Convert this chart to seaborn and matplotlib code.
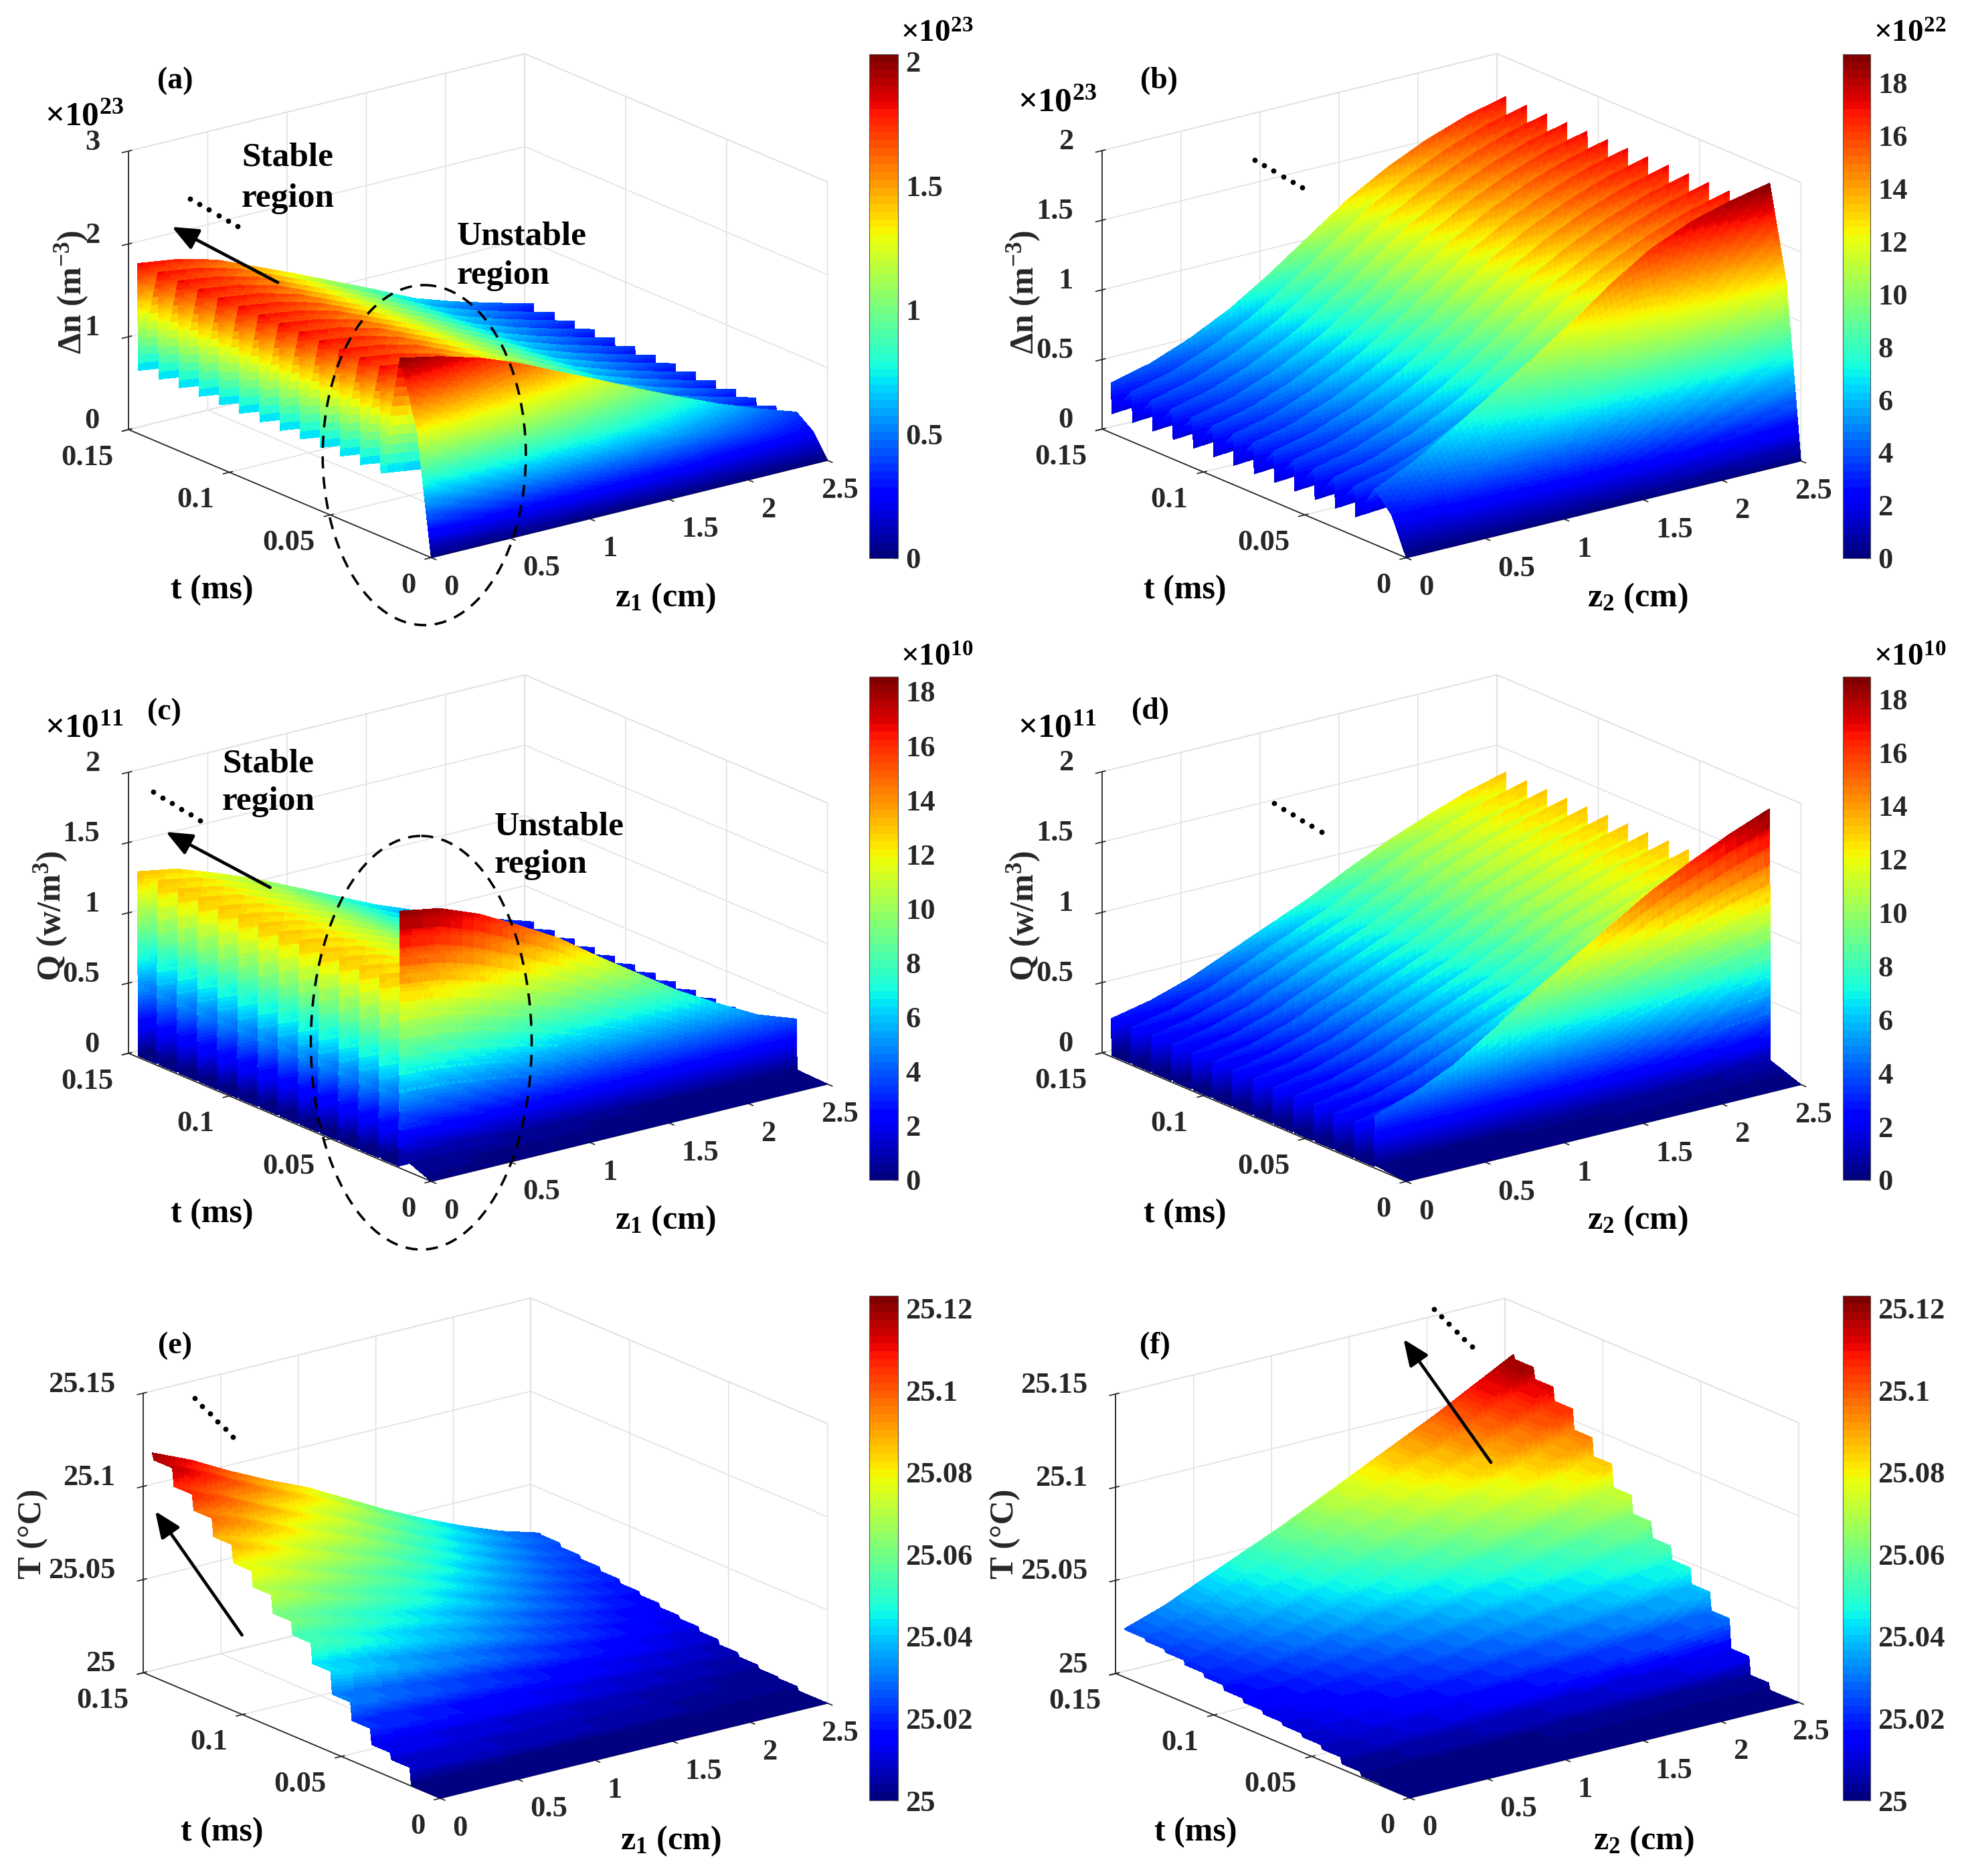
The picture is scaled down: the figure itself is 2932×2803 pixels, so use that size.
import numpy as np
import matplotlib
matplotlib.use("Agg")
import matplotlib.pyplot as plt
import seaborn as sns
from matplotlib.cm import ScalarMappable
from matplotlib.colors import Normalize
from matplotlib.patches import Ellipse

# ---- values ----
z_cm = [0, 0.25, 0.5, 0.75, 1, 1.25, 1.5, 1.75, 2, 2.25, 2.5]
pulse_t = [0.0154, 0.0254, 0.0354, 0.0454, 0.0554, 0.0654, 0.0754,
           0.0854, 0.0954, 0.1054, 0.1154, 0.1254, 0.1354, 0.1456]

# (a) delta n, x1e23
a_first = [2.01, 1.92, 1.80, 1.64, 1.44, 1.25, 1.05, 0.86, 0.68, 0.52, 0.38]
a_rest = [1.83, 1.77, 1.66, 1.48, 1.30, 1.11, 0.92, 0.72, 0.58, 0.46, 0.35]
a_base = [0.68, 0.62, 0.55, 0.48, 0.40, 0.33, 0.27, 0.20, 0.15, 0.10, 0.07]
# (b) delta n, x1e23
b_first = [0.40, 0.53, 0.70, 0.88, 1.06, 1.25, 1.46, 1.64, 1.76, 1.84, 1.90]
b_rest = [0.36, 0.43, 0.54, 0.68, 0.86, 1.06, 1.26, 1.42, 1.55, 1.65, 1.72]
b_base = [0.14, 0.16, 0.21, 0.27, 0.33, 0.41, 0.49, 0.55, 0.60, 0.63, 0.66]
# first pulse rise (time, share of the peak)
rise_t = [0.0035, 0.0071]
rise_share = [0.32, 0.65]
# (c) Q, x1e11
c_first = [1.83, 1.78, 1.67, 1.52, 1.36, 1.16, 0.97, 0.78, 0.62, 0.47, 0.37]
c_rest = [1.32, 1.27, 1.17, 1.06, 0.93, 0.80, 0.67, 0.56, 0.46, 0.36, 0.27]
c_before = [0.09, 0.08, 0.07, 0.06, 0.05, 0.04, 0.03, 0.03, 0.02, 0.01, 0.01]
# (d) Q, x1e11
d_first = [0.376, 0.47, 0.60, 0.78, 0.98, 1.15, 1.32, 1.49, 1.63, 1.76, 1.87]
d_rest = [0.27, 0.33, 0.42, 0.54, 0.66, 0.78, 0.92, 1.05, 1.16, 1.26, 1.335]
d_before = [0.02, 0.02, 0.03, 0.03, 0.04, 0.04, 0.05, 0.05, 0.06, 0.07, 0.08]
q_base = [0.01, 0.01, 0.01, 0.01, 0.01, 0.01, 0.01, 0.01, 0.01, 0.01, 0.01]
# (e)/(f) T - 25 at the last pulse, and the share reached at each pulse
e_last = [0.120, 0.111, 0.100, 0.090, 0.081, 0.070, 0.059, 0.049, 0.040, 0.032, 0.026]
f_last = [0.026, 0.033, 0.042, 0.051, 0.060, 0.070, 0.080, 0.090, 0.100, 0.111, 0.122]
e_share = [0.08, 0.11, 0.18, 0.26, 0.36, 0.45, 0.51, 0.59, 0.66, 0.74, 0.82, 0.89, 0.97, 1.0]
f_share = [0.03, 0.11, 0.24, 0.32, 0.39, 0.45, 0.52, 0.60, 0.70, 0.78, 0.87, 0.93, 0.98, 1.0]

z_ticks = [0, 0.5, 1, 1.5, 2, 2.5]
t_ticks = [0, 0.05, 0.1, 0.15]

W, H = 2932, 2803
JET = plt.get_cmap("jet", 64)

sns.set_theme(style="white")
plt.rcParams["font.family"] = ["Liberation Serif", "DejaVu Serif"]
plt.rcParams["font.weight"] = "bold"
plt.rcParams["mathtext.fontset"] = "custom"
plt.rcParams["mathtext.rm"] = "Liberation Serif:bold"
plt.rcParams["mathtext.it"] = "Liberation Serif:bold"
plt.rcParams["mathtext.bf"] = "Liberation Serif:bold"
plt.rcParams["mathtext.default"] = "rm"
INK = "#262626"
FS = 32


def pulsed_rows(first, rest, base, before=None):
    """Rows of the surface, one per time: rise, then a wall per pulse."""
    first, rest, base = map(np.array, (first, rest, base))
    t = [0.0]
    rows = [np.zeros_like(first)]
    steps = []
    if before is None:
        for rt, share in zip(rise_t, rise_share):
            t.append(rt)
            rows.append(first * share)
            steps.append(24)
        t.append(pulse_t[0])
        rows.append(first)
        steps.append(28)
        for tk in pulse_t[1:]:
            t += [tk - 0.0004, tk]
            rows += [base, rest]
            steps += [12, 44]
    else:
        # Q drops back to the floor right after each pulse and stays there
        t += [pulse_t[0] - 0.0004, pulse_t[0]]
        rows += [np.array(before), first]
        steps += [4, 70]
        for tk in pulse_t[1:]:
            t += [t[-1] + 0.0008, tk - 0.0004, tk]
            rows += [base, base, rest]
            steps += [14, 3, 50]
    return t, rows, steps


def stair_rows(last, share):
    last = np.array(last)
    t = [0.0]
    rows = [last * 0]
    steps = []
    prev = 0.0
    for tk, s in zip(pulse_t, share):
        t += [tk - 0.0008, tk]
        rows += [last * prev, last * s]
        steps += [6, 6]
        prev = s
    return t, rows, steps


def fine_mesh(t, rows, steps, offset=0.0, sub=7):
    # cells are flat coloured, so split them: same job as MATLAB's shading interp
    z_fine = np.concatenate([np.linspace(z_cm[i], z_cm[i + 1], sub, endpoint=False)
                             for i in range(len(z_cm) - 1)] + [[z_cm[-1]]])
    t_out, z_out = [t[0]], [np.interp(z_fine, z_cm, rows[0])]
    for i, n in enumerate(steps):
        for f in np.linspace(0, 1, n + 1)[1:]:
            t_out.append(t[i] + f * (t[i + 1] - t[i]))
            z_out.append(np.interp(z_fine, z_cm, rows[i] + f * (rows[i + 1] - rows[i])))
    X, Y = np.meshgrid(z_fine, t_out)
    return X, Y, np.array(z_out) + offset


def panel(fig, front, back_top, right, left, surf, zlim, zticks, ztick_fmt, vmax, vmin=0.0):
    """Place a 3D axes from the pixel corners of its box."""
    S = 1100.0
    # the 2D view limits of a 3D axes are -0.095..0.09, so its centre sits off the box centre
    off = S * 0.0025 / 0.185
    cx, cy = (front[0] + back_top[0]) / 2 - off, (front[1] + back_top[1]) / 2 + off
    ax = fig.add_axes([(cx - S / 2) / W, 1 - (cy + S / 2) / H, S / W, S / H],
                      projection="3d", proj_type="ortho")
    ax.patch.set_alpha(0)
    ax.view_init(elev=18.8, azim=-127.3)
    lx = (right[0] - front[0]) / 0.7953
    ly = (front[0] - left[0]) / 0.6063
    lz = (right[1] + left[1] - front[1] - back_top[1]) / 0.9466
    norm = np.sqrt(lx ** 2 + ly ** 2 + lz ** 2)
    ax.set_box_aspect((lx, ly, lz), zoom=1.85 * norm / (S * 1.8294640721620434 * 25 / 24))
    X, Y, Z = surf
    ax.plot_surface(X, Y, Z, rstride=1, cstride=1, cmap=JET, vmin=vmin, vmax=vmax,
                    shade=False, antialiased=False, linewidth=0)
    ax.set_xlim(0, 2.5)
    ax.set_ylim(0, 0.15)
    ax.set_zlim(*zlim)
    ax.set_xticks(z_ticks)
    x_labels = ax.set_xticklabels(["0", "0.5", "1", "1.5", "2", "2.5"], ha="left")
    x_labels[-1].set_ha("center")
    ax.set_yticks(t_ticks)
    ax.set_yticklabels(["0", "0.05", "0.1", "0.15"], ha="right")
    ax.set_zticks(zticks)
    ax.set_zticklabels(ztick_fmt, ha="right", va="baseline")
    ax.tick_params(labelsize=FS, colors=INK)
    ax.tick_params(axis="x", pad=9)
    ax.tick_params(axis="y", pad=8)
    ax.tick_params(axis="z", pad=9)
    for axis in (ax.xaxis, ax.yaxis, ax.zaxis):
        axis.set_pane_color((1, 1, 1, 1))
        axis.pane.set_edgecolor("#dddddd")
        axis.pane.set_linewidth(1.2)
        axis._axinfo["grid"].update(color="#e2e2e2", linewidth=1.2)
        axis._axinfo["axisline"]["color"] = "#333333"
        axis._axinfo["tick"]["color"] = "#333333"
        axis.line.set_linewidth(1.3)
    return ax


def colorbar(fig, x0, x1, y0, y1, vmin, vmax, ticks, labels):
    cax = fig.add_axes([x0 / W, 1 - y1 / H, (x1 - x0) / W, (y1 - y0) / H])
    cb = fig.colorbar(ScalarMappable(Normalize(vmin, vmax), JET), cax=cax)
    cb.set_ticks(ticks)
    cb.set_ticklabels(labels)
    cb.ax.tick_params(labelsize=FS, colors=INK, direction="in", length=5, pad=8, width=1)
    cb.outline.set_linewidth(0.8)
    cb.outline.set_edgecolor("#555555")
    return cb


def arrow(ov, tail, head):
    ov.annotate("", xy=head, xytext=tail,
                arrowprops=dict(arrowstyle="-|>,head_length=0.85,head_width=0.36", color="black",
                                lw=3.4, mutation_scale=28, shrinkA=0, shrinkB=0))


def dots(ov, start, end):
    ov.plot(np.linspace(start[0], end[0], 6), np.linspace(start[1], end[1], 6), "o",
            color="black", ms=5.6, mew=0)


fig = plt.figure(figsize=(W / 100, H / 100), dpi=100, facecolor="white")

zt3 = [0, 1, 2, 3]
zt2 = [0, 0.5, 1, 1.5, 2]
zl2 = ["0", "0.5", "1", "1.5", "2"]
zte = [25, 25.05, 25.1, 25.15]
zle = ["25", "25.05", "25.1", "25.15"]
v_e = 25.123

panel(fig, (644.6, 833), (784, 80.6), (1236.6, 687.7), (192, 642),
      fine_mesh(*pulsed_rows(a_first, a_rest, a_base)), (0, 3), zt3, ["0", "1", "2", "3"], 2.03)
panel(fig, (2100.3, 833), (2238, 80.6), (2690, 687.7), (1645.6, 642),
      fine_mesh(*pulsed_rows(b_first, b_rest, b_base)), (0, 2), zt2, zl2, 1.91)
panel(fig, (644.6, 1763), (784, 1010.6), (1236.6, 1619.5), (192, 1574),
      fine_mesh(*pulsed_rows(c_first, c_rest, q_base, c_before)), (0, 2), zt2, zl2, 1.855)
panel(fig, (2100.3, 1763), (2238, 1010.6), (2690, 1619.5), (1645.6, 1574),
      fine_mesh(*pulsed_rows(d_first, d_rest, q_base, d_before)), (0, 2), zt2, zl2, 1.884)
panel(fig, (658, 2690), (793, 1936.3), (1236.6, 2545), (214.3, 2499),
      fine_mesh(*stair_rows(e_last, e_share), offset=25), (25, 25.15), zte, zle, v_e, vmin=25)
panel(fig, (2108.8, 2690), (2246.8, 1936.3), (2690, 2545), (1669.3, 2499),
      fine_mesh(*stair_rows(f_last, f_share), offset=25), (25, 25.15), zte, zle, v_e, vmin=25)

even = list(range(0, 20, 2))
colorbar(fig, 1299, 1342, 80.6, 833.7, 0, 2.03, [0, 0.5, 1, 1.5, 2], ["0", "0.5", "1", "1.5", "2"])
colorbar(fig, 2754, 2795, 80.6, 833.7, 0, 19.1, even, [str(v) for v in even])
colorbar(fig, 1299, 1342, 1010.6, 1763, 0, 18.55, even, [str(v) for v in even])
colorbar(fig, 2754, 2795, 1010.6, 1763, 0, 18.84, even, [str(v) for v in even])
t_bar = [25, 25.02, 25.04, 25.06, 25.08, 25.1, 25.12]
t_lab = ["25", "25.02", "25.04", "25.06", "25.08", "25.1", "25.12"]
colorbar(fig, 1299, 1342, 1936.3, 2690, 25, v_e, t_bar, t_lab)
colorbar(fig, 2754, 2795, 1936.3, 2690, 25, v_e, t_bar, t_lab)

# annotation layer in pixel coordinates
ov = fig.add_axes([0, 0, 1, 1], zorder=20)
ov.set_xlim(0, W)
ov.set_ylim(H, 0)
ov.axis("off")


def put(x, y, s, size=36, rot=0, ha="center"):
    ov.text(x, y, s, fontsize=size, rotation=rot, ha=ha, va="center", color="black" if rot == 0 else INK,
            fontweight="bold")


for x, y, s in [(261.6, 121, "(a)"), (1731.7, 121, "(b)"), (245.5, 1064, "(c)"),
                (1719, 1063, "(d)"), (261.6, 2011, "(e)"), (1726, 2011, "(f)")]:
    put(x, y, s, size=33)

for x, y in [(317, 881.6), (1771, 881.6), (317, 1813.6), (1771, 1813.6), (332, 2738), (1787, 2738)]:
    put(x, y, "t (ms)")
for x, y in [(994, 894), (994, 1824), (1002, 2751)]:
    put(x, y, "z$_1$ (cm)")
for x, y in [(2447, 894), (2447, 1824), (2456.6, 2751)]:
    put(x, y, "z$_2$ (cm)")
put(107, 436, "Δn (m$^{-3}$)", rot=90)
put(1530, 436, "Δn (m$^{-3}$)", rot=90)
put(76, 1368, "Q (w/m$^3$)", rot=90)
put(1530, 1368, "Q (w/m$^3$)", rot=90)
put(49, 2292, "T (°C)", rot=90)
put(1502, 2292, "T (°C)", rot=90)

for x, y, s in [(67, 175, "×10$^{23}$"), (1521, 154, "×10$^{23}$"), (67, 1089, "×10$^{11}$"),
                (1521, 1089, "×10$^{11}$")]:
    put(x, y, s, size=37, ha="left")
for x, y, s in [(1346, 52, "×10$^{23}$"), (2800, 52, "×10$^{22}$"),
                (1346, 984, "×10$^{10}$"), (2800, 984, "×10$^{10}$")]:
    put(x, y, s, size=34, ha="left")

for x, y, s in [(361, 236, "Stable"), (361, 297, "region"), (683, 353, "Unstable"), (683, 412, "region"),
                (332, 1141, "Stable"), (332, 1198, "region"), (739, 1235, "Unstable"), (739, 1292, "region")]:
    put(x, y, s, size=37, ha="left")

arrow(ov, (415, 422), (257, 339))
arrow(ov, (403.6, 1326), (248, 1243))
arrow(ov, (361.6, 2443), (232, 2258))
arrow(ov, (2228, 2185), (2097.4, 2001))

dots(ov, (284, 297), (355, 338))
dots(ov, (1875, 239), (1946, 280))
dots(ov, (229, 1183), (299, 1226))
dots(ov, (1903.7, 1200), (1974.6, 1243))
dots(ov, (291, 2089), (348, 2146.5))
dots(ov, (2142.8, 1956), (2199.5, 2012))

ov.add_patch(Ellipse((634, 680), 303.6, 508, fill=False, ec="black", lw=2.6, ls=(0, (5, 3.5))))
ov.add_patch(Ellipse((629.5, 1558), 330, 618, fill=False, ec="black", lw=2.6, ls=(0, (5, 3.5))))

fig.savefig("out.png", dpi=100)
